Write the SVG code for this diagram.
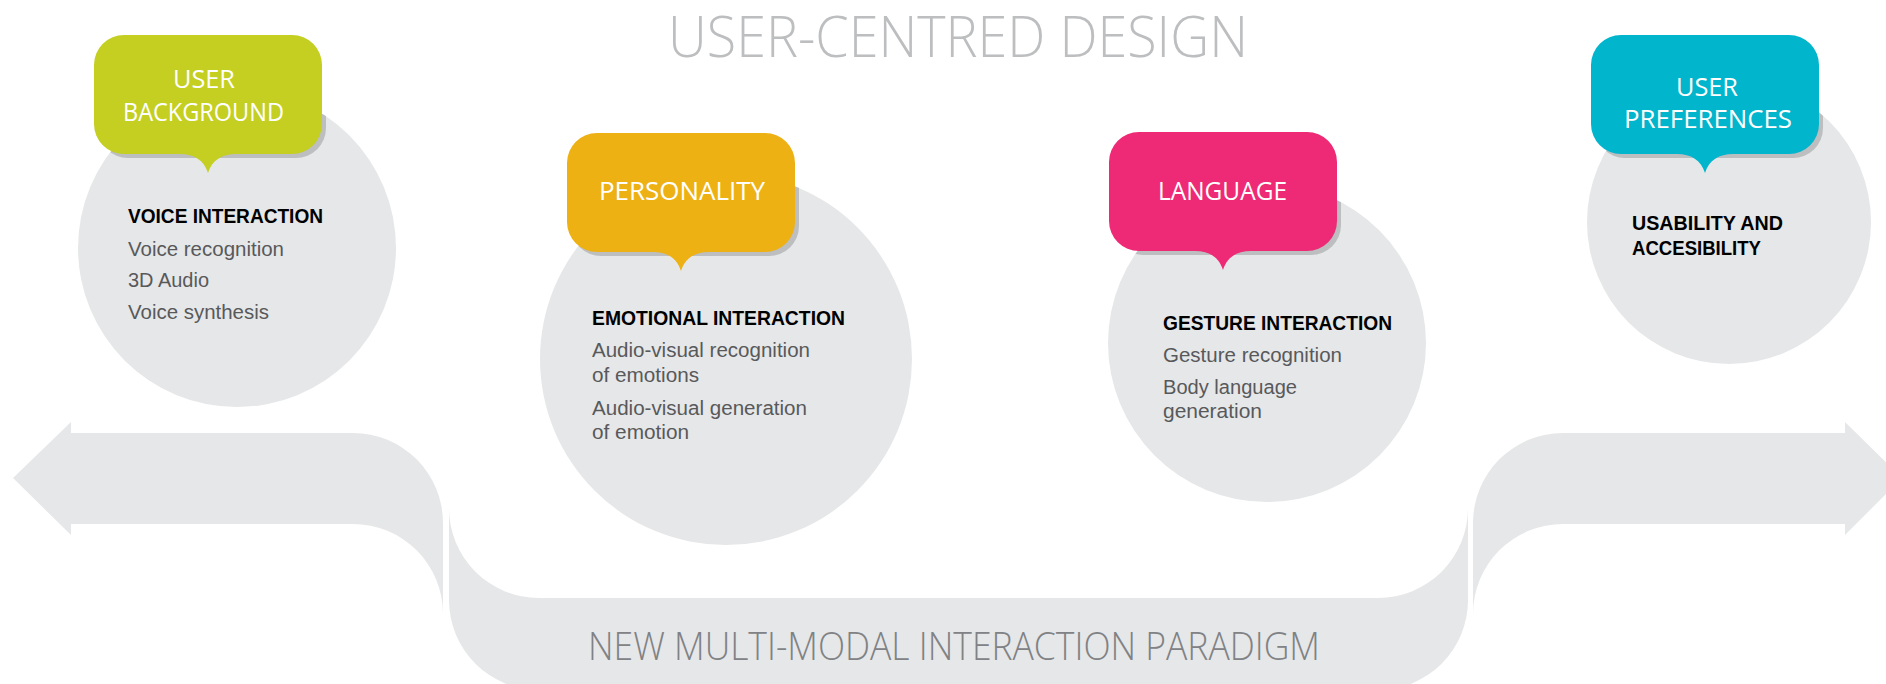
<svg xmlns="http://www.w3.org/2000/svg" xmlns:xlink="http://www.w3.org/1999/xlink" width="1886" height="684" viewBox="0 0 1886 684">
<style>
.bg{fill:#ffffff}
.disc{fill:#e6e7e8}
.band{fill:#e6e7e8}
.shadow{fill:#bcbec0}
.title{font-family:"Open Sans","Liberation Sans",sans-serif;font-weight:300;font-size:57px;fill:#bcbec0}
.foot{font-family:"Open Sans","Liberation Sans",sans-serif;font-weight:300;font-size:38px;fill:#808285}
.lbl{font-family:"Open Sans","Liberation Sans",sans-serif;font-weight:400;font-size:26px;fill:#ffffff}
.hd{font-family:"Liberation Sans",Arial,sans-serif;font-weight:700;font-size:20px;fill:#000000}
.tx{font-family:"Liberation Sans",Arial,sans-serif;font-weight:400;font-size:20px;fill:#58595b}
</style>
<defs>
<path id="bubble" d="M30,0 H198 A30 30 0 0 1 228,30 V89 A30 30 0 0 1 198,119 H142 C128,119 118,125 114,138 C110,125 100,119 86,119 H30 A30 30 0 0 1 0,89 V30 A30 30 0 0 1 30,0 Z"/>
<rect id="shade" x="0" y="0" width="228" height="119" rx="30" ry="30"/>
<clipPath id="c1"><circle cx="237" cy="248" r="159"/></clipPath>
<clipPath id="c2"><circle cx="726" cy="359" r="186"/></clipPath>
<clipPath id="c3"><circle cx="1267" cy="343" r="159"/></clipPath>
<clipPath id="c4"><circle cx="1729" cy="222" r="142"/></clipPath>
</defs>
<rect class="bg" x="0" y="0" width="1886" height="684"/>

<g id="title">
<text class="title" x="668" y="57" textLength="580" lengthAdjust="spacingAndGlyphs">USER-CENTRED DESIGN</text>
</g>

<g id="connectors">
<path class="band" d="M71,433 L353,433 A90 90 0 0 1 443,523 L443,614 A90 90 0 0 0 353,524 L71,524 L71,535 L13,478 L71,422 Z"/>
<path class="band" d="M449,508 A90 90 0 0 0 539,598 L1378,598 A90 90 0 0 0 1468,508 L1468,600 A90 90 0 0 1 1378,690 L539,690 A90 90 0 0 1 449,600 Z"/>
<path class="band" d="M1845,433 L1563,433 A90 90 0 0 0 1473,523 L1473,614 A90 90 0 0 1 1563,524 L1845,524 L1845,535 L1902,478 L1845,422 Z"/>
<text class="foot" x="588" y="660" textLength="732" lengthAdjust="spacingAndGlyphs">NEW MULTI-MODAL INTERACTION PARADIGM</text>
</g>

<g id="node-user-background">
<circle class="disc" cx="237" cy="248" r="159"/>
<g clip-path="url(#c1)"><use xlink:href="#shade" class="shadow" transform="translate(98,39)"/></g>
<use xlink:href="#bubble" fill="#c4cf22" transform="translate(94,35)"/>
<text class="lbl" x="173" y="88" textLength="62" lengthAdjust="spacingAndGlyphs">USER</text>
<text class="lbl" x="123" y="121" textLength="161" lengthAdjust="spacingAndGlyphs">BACKGROUND</text>
<text class="hd" x="128" y="223" textLength="195" lengthAdjust="spacingAndGlyphs">VOICE INTERACTION</text>
<text class="tx" x="128" y="256" textLength="156" lengthAdjust="spacingAndGlyphs">Voice recognition</text>
<text class="tx" x="128" y="287" textLength="81" lengthAdjust="spacingAndGlyphs">3D Audio</text>
<text class="tx" x="128" y="319" textLength="141" lengthAdjust="spacingAndGlyphs">Voice synthesis</text>
</g>

<g id="node-personality">
<circle class="disc" cx="726" cy="359" r="186"/>
<g clip-path="url(#c2)"><use xlink:href="#shade" class="shadow" transform="translate(571,137)"/></g>
<use xlink:href="#bubble" fill="#eeb114" transform="translate(567,133)"/>
<text class="lbl" x="599" y="200" textLength="166" lengthAdjust="spacingAndGlyphs">PERSONALITY</text>
<text class="hd" x="592" y="325" textLength="253" lengthAdjust="spacingAndGlyphs">EMOTIONAL INTERACTION</text>
<text class="tx" x="592" y="357" textLength="218" lengthAdjust="spacingAndGlyphs">Audio-visual recognition</text>
<text class="tx" x="592" y="382" textLength="107" lengthAdjust="spacingAndGlyphs">of emotions</text>
<text class="tx" x="592" y="415" textLength="215" lengthAdjust="spacingAndGlyphs">Audio-visual generation</text>
<text class="tx" x="592" y="439" textLength="97" lengthAdjust="spacingAndGlyphs">of emotion</text>
</g>

<g id="node-language">
<circle class="disc" cx="1267" cy="343" r="159"/>
<g clip-path="url(#c3)"><use xlink:href="#shade" class="shadow" transform="translate(1113,136)"/></g>
<use xlink:href="#bubble" fill="#ee2a76" transform="translate(1109,132)"/>
<text class="lbl" x="1158" y="200" textLength="129" lengthAdjust="spacingAndGlyphs">LANGUAGE</text>
<text class="hd" x="1163" y="330" textLength="229" lengthAdjust="spacingAndGlyphs">GESTURE INTERACTION</text>
<text class="tx" x="1163" y="362" textLength="179" lengthAdjust="spacingAndGlyphs">Gesture recognition</text>
<text class="tx" x="1163" y="394" textLength="134" lengthAdjust="spacingAndGlyphs">Body language</text>
<text class="tx" x="1163" y="418" textLength="99" lengthAdjust="spacingAndGlyphs">generation</text>
</g>

<g id="node-user-preferences">
<circle class="disc" cx="1729" cy="222" r="142"/>
<g clip-path="url(#c4)"><use xlink:href="#shade" class="shadow" transform="translate(1595,39)"/></g>
<use xlink:href="#bubble" fill="#00b5cc" transform="translate(1591,35)"/>
<text class="lbl" x="1676" y="96" textLength="62" lengthAdjust="spacingAndGlyphs">USER</text>
<text class="lbl" x="1624" y="128" textLength="168" lengthAdjust="spacingAndGlyphs">PREFERENCES</text>
<text class="hd" x="1632" y="230" textLength="151" lengthAdjust="spacingAndGlyphs">USABILITY AND</text>
<text class="hd" x="1632" y="255" textLength="129" lengthAdjust="spacingAndGlyphs">ACCESIBILITY</text>
</g>
</svg>
